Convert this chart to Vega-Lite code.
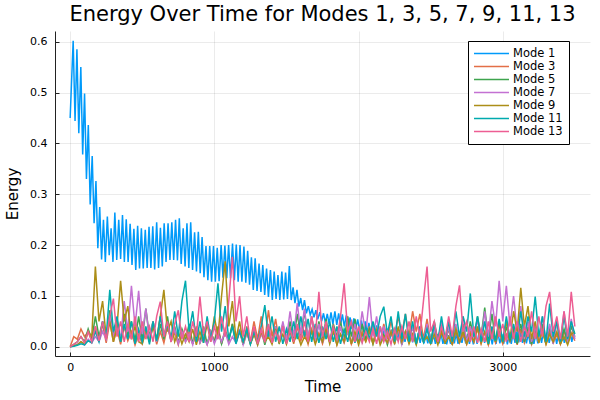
{
"$schema": "https://vega.github.io/schema/vega-lite/v6.json",
"width": 535, "height": 325,
"autosize": {"type": "none"},
"padding": {"left": 55, "top": 31, "right": 10, "bottom": 44},
"background": "white",
"title": {"text": "Energy Over Time for Modes 1, 3, 5, 7, 9, 11, 13", "fontSize": 21, "font": "DejaVu Sans", "fontWeight": "normal", "color": "black", "offset": 6},
"config": {
  "view": {"stroke": null},
  "axis": {"labelFont": "DejaVu Sans", "labelFontSize": 11, "labelColor": "black", "titleFont": "DejaVu Sans", "titleFontSize": 15, "titleFontWeight": "normal", "titleColor": "black", "domainColor": "#222", "domainWidth": 1, "tickColor": "#222", "tickSize": -4, "gridColor": "black", "gridOpacity": 0.08, "gridWidth": 1},
  "legend": {"orient": "none", "legendX": 413, "legendY": 10, "strokeColor": "black", "fillColor": "white", "padding": 6, "symbolType": "stroke", "symbolSize": 1369, "symbolStrokeWidth": 1.5, "symbolOffset": -3, "clipHeight": 13, "labelFont": "DejaVu Sans", "labelFontSize": 11.5, "labelColor": "black", "labelOffset": 3, "rowPadding": 0, "title": null}
},
"datasets": {
"m1": [{"t":0,"e":0.45},{"t":21,"e":0.602},{"t":34,"e":0.444},{"t":47,"e":0.585},{"t":60,"e":0.42},{"t":74,"e":0.55},{"t":87,"e":0.378},{"t":100,"e":0.498},{"t":113,"e":0.33},{"t":126,"e":0.436},{"t":139,"e":0.28},{"t":153,"e":0.375},{"t":166,"e":0.243},{"t":179,"e":0.326},{"t":192,"e":0.194},{"t":205,"e":0.275},{"t":218,"e":0.172},{"t":231,"e":0.25},{"t":244,"e":0.167},{"t":258,"e":0.256},{"t":271,"e":0.18},{"t":284,"e":0.233},{"t":297,"e":0.167},{"t":310,"e":0.264},{"t":323,"e":0.171},{"t":337,"e":0.25},{"t":350,"e":0.173},{"t":363,"e":0.259},{"t":376,"e":0.167},{"t":389,"e":0.251},{"t":402,"e":0.167},{"t":416,"e":0.242},{"t":429,"e":0.161},{"t":442,"e":0.232},{"t":455,"e":0.151},{"t":468,"e":0.238},{"t":481,"e":0.154},{"t":494,"e":0.233},{"t":507,"e":0.154},{"t":521,"e":0.23},{"t":534,"e":0.155},{"t":547,"e":0.236},{"t":560,"e":0.155},{"t":573,"e":0.237},{"t":586,"e":0.152},{"t":600,"e":0.245},{"t":613,"e":0.155},{"t":626,"e":0.234},{"t":639,"e":0.158},{"t":652,"e":0.243},{"t":665,"e":0.167},{"t":679,"e":0.243},{"t":692,"e":0.171},{"t":705,"e":0.245},{"t":718,"e":0.171},{"t":731,"e":0.25},{"t":744,"e":0.17},{"t":757,"e":0.253},{"t":770,"e":0.163},{"t":784,"e":0.233},{"t":797,"e":0.158},{"t":810,"e":0.243},{"t":823,"e":0.155},{"t":836,"e":0.245},{"t":849,"e":0.151},{"t":863,"e":0.225},{"t":876,"e":0.148},{"t":889,"e":0.226},{"t":902,"e":0.145},{"t":915,"e":0.216},{"t":928,"e":0.137},{"t":942,"e":0.198},{"t":955,"e":0.131},{"t":968,"e":0.198},{"t":981,"e":0.128},{"t":994,"e":0.198},{"t":1007,"e":0.128},{"t":1020,"e":0.195},{"t":1033,"e":0.129},{"t":1047,"e":0.2},{"t":1060,"e":0.136},{"t":1073,"e":0.199},{"t":1086,"e":0.135},{"t":1099,"e":0.2},{"t":1112,"e":0.135},{"t":1126,"e":0.203},{"t":1139,"e":0.131},{"t":1152,"e":0.201},{"t":1165,"e":0.128},{"t":1178,"e":0.2},{"t":1191,"e":0.128},{"t":1205,"e":0.197},{"t":1218,"e":0.126},{"t":1231,"e":0.189},{"t":1244,"e":0.122},{"t":1257,"e":0.176},{"t":1270,"e":0.112},{"t":1283,"e":0.174},{"t":1296,"e":0.11},{"t":1310,"e":0.164},{"t":1323,"e":0.108},{"t":1336,"e":0.161},{"t":1349,"e":0.102},{"t":1362,"e":0.154},{"t":1375,"e":0.098},{"t":1389,"e":0.151},{"t":1402,"e":0.092},{"t":1415,"e":0.148},{"t":1428,"e":0.094},{"t":1441,"e":0.141},{"t":1454,"e":0.092},{"t":1468,"e":0.148},{"t":1481,"e":0.093},{"t":1494,"e":0.146},{"t":1507,"e":0.094},{"t":1520,"e":0.159},{"t":1533,"e":0.092},{"t":1546,"e":0.117},{"t":1559,"e":0.086},{"t":1573,"e":0.112},{"t":1586,"e":0.079},{"t":1599,"e":0.096},{"t":1612,"e":0.072},{"t":1625,"e":0.092},{"t":1638,"e":0.066},{"t":1652,"e":0.08},{"t":1665,"e":0.063},{"t":1678,"e":0.074},{"t":1691,"e":0.058},{"t":1704,"e":0.072},{"t":1717,"e":0.054},{"t":1731,"e":0.068},{"t":1744,"e":0.05},{"t":1757,"e":0.066},{"t":1770,"e":0.047},{"t":1783,"e":0.065},{"t":1796,"e":0.045},{"t":1809,"e":0.068},{"t":1822,"e":0.044},{"t":1836,"e":0.07},{"t":1849,"e":0.043},{"t":1862,"e":0.066},{"t":1875,"e":0.042},{"t":1888,"e":0.064},{"t":1901,"e":0.04},{"t":1915,"e":0.062},{"t":1928,"e":0.038},{"t":1941,"e":0.058},{"t":1954,"e":0.036},{"t":1967,"e":0.056},{"t":1980,"e":0.035},{"t":1994,"e":0.054},{"t":2007,"e":0.033},{"t":2020,"e":0.052},{"t":2033,"e":0.03},{"t":2046,"e":0.05},{"t":2059,"e":0.028},{"t":2072,"e":0.047},{"t":2085,"e":0.025},{"t":2099,"e":0.045},{"t":2112,"e":0.022},{"t":2125,"e":0.042},{"t":2138,"e":0.02},{"t":2151,"e":0.04},{"t":2164,"e":0.018},{"t":2178,"e":0.038},{"t":2191,"e":0.016},{"t":2204,"e":0.036},{"t":2217,"e":0.015},{"t":2230,"e":0.034},{"t":2243,"e":0.013},{"t":2257,"e":0.033},{"t":2270,"e":0.012},{"t":2283,"e":0.032},{"t":2296,"e":0.011},{"t":2309,"e":0.03},{"t":2322,"e":0.01},{"t":2335,"e":0.03},{"t":2348,"e":0.01},{"t":2362,"e":0.028},{"t":2375,"e":0.009},{"t":2388,"e":0.027},{"t":2401,"e":0.008},{"t":2414,"e":0.027},{"t":2427,"e":0.008},{"t":2441,"e":0.026},{"t":2454,"e":0.007},{"t":2467,"e":0.025},{"t":2480,"e":0.007},{"t":2493,"e":0.026},{"t":2506,"e":0.006},{"t":2520,"e":0.024},{"t":2533,"e":0.006},{"t":2546,"e":0.025},{"t":2559,"e":0.007},{"t":2572,"e":0.027},{"t":2585,"e":0.006},{"t":2598,"e":0.024},{"t":2611,"e":0.005},{"t":2625,"e":0.023},{"t":2638,"e":0.006},{"t":2651,"e":0.025},{"t":2664,"e":0.007},{"t":2677,"e":0.026},{"t":2690,"e":0.006},{"t":2704,"e":0.028},{"t":2717,"e":0.008},{"t":2730,"e":0.027},{"t":2743,"e":0.007},{"t":2756,"e":0.025},{"t":2769,"e":0.006},{"t":2783,"e":0.024},{"t":2796,"e":0.005},{"t":2809,"e":0.026},{"t":2822,"e":0.006},{"t":2835,"e":0.028},{"t":2848,"e":0.007},{"t":2861,"e":0.027},{"t":2874,"e":0.008},{"t":2888,"e":0.025},{"t":2901,"e":0.006},{"t":2914,"e":0.024},{"t":2927,"e":0.005},{"t":2940,"e":0.026},{"t":2953,"e":0.006},{"t":2967,"e":0.027},{"t":2980,"e":0.007},{"t":2993,"e":0.025},{"t":3006,"e":0.006},{"t":3019,"e":0.024},{"t":3032,"e":0.005},{"t":3046,"e":0.026},{"t":3059,"e":0.006},{"t":3072,"e":0.028},{"t":3085,"e":0.008},{"t":3098,"e":0.03},{"t":3111,"e":0.009},{"t":3124,"e":0.029},{"t":3137,"e":0.008},{"t":3151,"e":0.027},{"t":3164,"e":0.007},{"t":3177,"e":0.026},{"t":3190,"e":0.006},{"t":3203,"e":0.025},{"t":3216,"e":0.006},{"t":3230,"e":0.027},{"t":3243,"e":0.007},{"t":3256,"e":0.029},{"t":3269,"e":0.008},{"t":3282,"e":0.03},{"t":3295,"e":0.009},{"t":3309,"e":0.028},{"t":3322,"e":0.008},{"t":3335,"e":0.027},{"t":3348,"e":0.007},{"t":3361,"e":0.026},{"t":3374,"e":0.006},{"t":3387,"e":0.028},{"t":3400,"e":0.007},{"t":3414,"e":0.03},{"t":3427,"e":0.008},{"t":3440,"e":0.029},{"t":3453,"e":0.009},{"t":3466,"e":0.031},{"t":3479,"e":0.01},{"t":3493,"e":0.03}],
"m3": [{"t":0,"e":0},{"t":25,"e":0.02},{"t":50,"e":0.015},{"t":75,"e":0.035},{"t":100,"e":0.02},{"t":125,"e":0.03},{"t":150,"e":0.012},{"t":175,"e":0.04},{"t":200,"e":0.01},{"t":225,"e":0.045},{"t":250,"e":0.008},{"t":275,"e":0.05},{"t":300,"e":0.01},{"t":325,"e":0.035},{"t":350,"e":0.005},{"t":375,"e":0.04},{"t":400,"e":0.012},{"t":425,"e":0.03},{"t":450,"e":0.004},{"t":475,"e":0.025},{"t":500,"e":0.006},{"t":525,"e":0.035},{"t":550,"e":0.01},{"t":575,"e":0.045},{"t":600,"e":0.005},{"t":625,"e":0.03},{"t":650,"e":0.008},{"t":675,"e":0.04},{"t":700,"e":0.012},{"t":725,"e":0.028},{"t":750,"e":0.004},{"t":775,"e":0.035},{"t":800,"e":0.01},{"t":825,"e":0.03},{"t":850,"e":0.006},{"t":875,"e":0.04},{"t":900,"e":0.008},{"t":925,"e":0.025},{"t":950,"e":0.005},{"t":975,"e":0.03},{"t":1000,"e":0.01},{"t":1025,"e":0.04},{"t":1050,"e":0.006},{"t":1075,"e":0.035},{"t":1100,"e":0.012},{"t":1125,"e":0.045},{"t":1150,"e":0.008},{"t":1175,"e":0.03},{"t":1200,"e":0.005},{"t":1225,"e":0.04},{"t":1250,"e":0.01},{"t":1275,"e":0.05},{"t":1300,"e":0.015},{"t":1325,"e":0.06},{"t":1350,"e":0.01},{"t":1375,"e":0.072},{"t":1400,"e":0.02},{"t":1425,"e":0.055},{"t":1450,"e":0.008},{"t":1475,"e":0.045},{"t":1500,"e":0.01},{"t":1525,"e":0.035},{"t":1550,"e":0.006},{"t":1575,"e":0.04},{"t":1600,"e":0.012},{"t":1625,"e":0.03},{"t":1650,"e":0.005},{"t":1675,"e":0.035},{"t":1700,"e":0.01},{"t":1725,"e":0.028},{"t":1750,"e":0.006},{"t":1775,"e":0.03},{"t":1800,"e":0.01},{"t":1825,"e":0.035},{"t":1850,"e":0.004},{"t":1875,"e":0.025},{"t":1900,"e":0.008},{"t":1925,"e":0.03},{"t":1950,"e":0.005},{"t":1975,"e":0.022},{"t":2000,"e":0.008},{"t":2025,"e":0.03},{"t":2050,"e":0.012},{"t":2075,"e":0.04},{"t":2100,"e":0.006},{"t":2125,"e":0.035},{"t":2150,"e":0.01},{"t":2175,"e":0.045},{"t":2200,"e":0.015},{"t":2225,"e":0.05},{"t":2250,"e":0.02},{"t":2275,"e":0.06},{"t":2300,"e":0.025},{"t":2325,"e":0.065},{"t":2350,"e":0.02},{"t":2375,"e":0.07},{"t":2400,"e":0.03},{"t":2425,"e":0.065},{"t":2450,"e":0.015},{"t":2475,"e":0.055},{"t":2500,"e":0.01},{"t":2525,"e":0.04},{"t":2550,"e":0.006},{"t":2575,"e":0.03},{"t":2600,"e":0.01},{"t":2625,"e":0.035},{"t":2650,"e":0.004},{"t":2675,"e":0.03},{"t":2700,"e":0.008},{"t":2725,"e":0.025},{"t":2750,"e":0.005},{"t":2775,"e":0.03},{"t":2800,"e":0.01},{"t":2825,"e":0.035},{"t":2850,"e":0.006},{"t":2875,"e":0.028},{"t":2900,"e":0.004},{"t":2925,"e":0.032},{"t":2950,"e":0.008},{"t":2975,"e":0.03},{"t":3000,"e":0.006},{"t":3025,"e":0.025},{"t":3050,"e":0.01},{"t":3075,"e":0.03},{"t":3100,"e":0.004},{"t":3125,"e":0.035},{"t":3150,"e":0.008},{"t":3175,"e":0.03},{"t":3200,"e":0.005},{"t":3225,"e":0.028},{"t":3250,"e":0.01},{"t":3275,"e":0.035},{"t":3300,"e":0.006},{"t":3325,"e":0.03},{"t":3350,"e":0.008},{"t":3375,"e":0.025},{"t":3400,"e":0.005},{"t":3425,"e":0.03},{"t":3450,"e":0.01},{"t":3475,"e":0.028},{"t":3500,"e":0.012}],
"m5": [{"t":0,"e":0},{"t":25,"e":0.005},{"t":50,"e":0.01},{"t":75,"e":0.02},{"t":100,"e":0.01},{"t":125,"e":0.035},{"t":150,"e":0.015},{"t":175,"e":0.06},{"t":200,"e":0.02},{"t":225,"e":0.05},{"t":250,"e":0.015},{"t":275,"e":0.072},{"t":300,"e":0.02},{"t":325,"e":0.055},{"t":350,"e":0.01},{"t":375,"e":0.065},{"t":400,"e":0.02},{"t":425,"e":0.05},{"t":450,"e":0.012},{"t":475,"e":0.06},{"t":500,"e":0.015},{"t":525,"e":0.075},{"t":550,"e":0.02},{"t":575,"e":0.05},{"t":600,"e":0.01},{"t":625,"e":0.045},{"t":650,"e":0.015},{"t":675,"e":0.06},{"t":700,"e":0.01},{"t":725,"e":0.04},{"t":750,"e":0.008},{"t":775,"e":0.035},{"t":800,"e":0.012},{"t":825,"e":0.045},{"t":850,"e":0.006},{"t":875,"e":0.03},{"t":900,"e":0.01},{"t":925,"e":0.04},{"t":950,"e":0.005},{"t":975,"e":0.03},{"t":1000,"e":0.01},{"t":1025,"e":0.035},{"t":1050,"e":0.006},{"t":1075,"e":0.03},{"t":1100,"e":0.012},{"t":1125,"e":0.045},{"t":1150,"e":0.008},{"t":1175,"e":0.035},{"t":1200,"e":0.004},{"t":1225,"e":0.03},{"t":1250,"e":0.006},{"t":1275,"e":0.025},{"t":1300,"e":0.01},{"t":1325,"e":0.035},{"t":1350,"e":0.004},{"t":1375,"e":0.03},{"t":1400,"e":0.01},{"t":1425,"e":0.04},{"t":1450,"e":0.006},{"t":1475,"e":0.045},{"t":1500,"e":0.01},{"t":1525,"e":0.05},{"t":1550,"e":0.015},{"t":1575,"e":0.065},{"t":1600,"e":0.02},{"t":1625,"e":0.07},{"t":1650,"e":0.015},{"t":1675,"e":0.06},{"t":1700,"e":0.01},{"t":1725,"e":0.05},{"t":1750,"e":0.015},{"t":1775,"e":0.055},{"t":1800,"e":0.01},{"t":1825,"e":0.045},{"t":1850,"e":0.02},{"t":1875,"e":0.05},{"t":1900,"e":0.015},{"t":1925,"e":0.06},{"t":1950,"e":0.02},{"t":1975,"e":0.055},{"t":2000,"e":0.01},{"t":2025,"e":0.045},{"t":2050,"e":0.015},{"t":2075,"e":0.035},{"t":2100,"e":0.006},{"t":2125,"e":0.03},{"t":2150,"e":0.01},{"t":2175,"e":0.025},{"t":2200,"e":0.004},{"t":2225,"e":0.03},{"t":2250,"e":0.008},{"t":2275,"e":0.035},{"t":2300,"e":0.004},{"t":2325,"e":0.03},{"t":2350,"e":0.01},{"t":2375,"e":0.025},{"t":2400,"e":0.006},{"t":2425,"e":0.035},{"t":2450,"e":0.01},{"t":2475,"e":0.04},{"t":2500,"e":0.008},{"t":2525,"e":0.05},{"t":2550,"e":0.012},{"t":2575,"e":0.045},{"t":2600,"e":0.006},{"t":2625,"e":0.04},{"t":2650,"e":0.01},{"t":2675,"e":0.035},{"t":2700,"e":0.008},{"t":2725,"e":0.045},{"t":2750,"e":0.01},{"t":2775,"e":0.05},{"t":2800,"e":0.015},{"t":2825,"e":0.06},{"t":2850,"e":0.02},{"t":2875,"e":0.077},{"t":2900,"e":0.015},{"t":2925,"e":0.065},{"t":2950,"e":0.01},{"t":2975,"e":0.05},{"t":3000,"e":0.008},{"t":3025,"e":0.04},{"t":3050,"e":0.012},{"t":3075,"e":0.035},{"t":3100,"e":0.006},{"t":3125,"e":0.045},{"t":3150,"e":0.01},{"t":3175,"e":0.04},{"t":3200,"e":0.005},{"t":3225,"e":0.035},{"t":3250,"e":0.01},{"t":3275,"e":0.045},{"t":3300,"e":0.008},{"t":3325,"e":0.04},{"t":3350,"e":0.012},{"t":3375,"e":0.05},{"t":3400,"e":0.006},{"t":3425,"e":0.035},{"t":3450,"e":0.01},{"t":3475,"e":0.04},{"t":3500,"e":0.02}],
"m7": [{"t":0,"e":0},{"t":25,"e":0.002},{"t":50,"e":0.005},{"t":75,"e":0.01},{"t":100,"e":0.004},{"t":125,"e":0.015},{"t":150,"e":0.008},{"t":175,"e":0.02},{"t":200,"e":0.01},{"t":225,"e":0.03},{"t":250,"e":0.015},{"t":275,"e":0.06},{"t":300,"e":0.02},{"t":325,"e":0.045},{"t":350,"e":0.015},{"t":375,"e":0.09},{"t":400,"e":0.03},{"t":425,"e":0.12},{"t":450,"e":0.04},{"t":475,"e":0.11},{"t":500,"e":0.025},{"t":525,"e":0.075},{"t":550,"e":0.015},{"t":575,"e":0.05},{"t":600,"e":0.01},{"t":625,"e":0.06},{"t":650,"e":0.02},{"t":675,"e":0.045},{"t":700,"e":0.01},{"t":725,"e":0.035},{"t":750,"e":0.006},{"t":775,"e":0.03},{"t":800,"e":0.01},{"t":825,"e":0.025},{"t":850,"e":0.004},{"t":875,"e":0.035},{"t":900,"e":0.008},{"t":925,"e":0.02},{"t":950,"e":0.004},{"t":975,"e":0.03},{"t":1000,"e":0.006},{"t":1025,"e":0.025},{"t":1050,"e":0.01},{"t":1075,"e":0.03},{"t":1100,"e":0.005},{"t":1125,"e":0.02},{"t":1150,"e":0.008},{"t":1175,"e":0.035},{"t":1200,"e":0.004},{"t":1225,"e":0.025},{"t":1250,"e":0.008},{"t":1275,"e":0.03},{"t":1300,"e":0.004},{"t":1325,"e":0.025},{"t":1350,"e":0.01},{"t":1375,"e":0.035},{"t":1400,"e":0.006},{"t":1425,"e":0.04},{"t":1450,"e":0.01},{"t":1475,"e":0.05},{"t":1500,"e":0.015},{"t":1525,"e":0.07},{"t":1550,"e":0.02},{"t":1575,"e":0.086},{"t":1600,"e":0.025},{"t":1625,"e":0.075},{"t":1650,"e":0.015},{"t":1675,"e":0.06},{"t":1700,"e":0.01},{"t":1725,"e":0.045},{"t":1750,"e":0.008},{"t":1775,"e":0.04},{"t":1800,"e":0.012},{"t":1825,"e":0.035},{"t":1850,"e":0.006},{"t":1875,"e":0.04},{"t":1900,"e":0.01},{"t":1925,"e":0.03},{"t":1950,"e":0.008},{"t":1975,"e":0.045},{"t":2000,"e":0.015},{"t":2025,"e":0.07},{"t":2050,"e":0.025},{"t":2075,"e":0.098},{"t":2100,"e":0.02},{"t":2125,"e":0.06},{"t":2150,"e":0.01},{"t":2175,"e":0.04},{"t":2200,"e":0.006},{"t":2225,"e":0.03},{"t":2250,"e":0.008},{"t":2275,"e":0.035},{"t":2300,"e":0.005},{"t":2325,"e":0.03},{"t":2350,"e":0.01},{"t":2375,"e":0.04},{"t":2400,"e":0.006},{"t":2425,"e":0.035},{"t":2450,"e":0.01},{"t":2475,"e":0.045},{"t":2500,"e":0.006},{"t":2525,"e":0.035},{"t":2550,"e":0.01},{"t":2575,"e":0.05},{"t":2600,"e":0.008},{"t":2625,"e":0.04},{"t":2650,"e":0.005},{"t":2675,"e":0.045},{"t":2700,"e":0.01},{"t":2725,"e":0.06},{"t":2750,"e":0.008},{"t":2775,"e":0.04},{"t":2800,"e":0.012},{"t":2825,"e":0.055},{"t":2850,"e":0.01},{"t":2875,"e":0.07},{"t":2900,"e":0.02},{"t":2925,"e":0.09},{"t":2950,"e":0.04},{"t":2975,"e":0.13},{"t":3000,"e":0.05},{"t":3025,"e":0.12},{"t":3050,"e":0.04},{"t":3075,"e":0.1},{"t":3100,"e":0.03},{"t":3125,"e":0.08},{"t":3150,"e":0.015},{"t":3175,"e":0.05},{"t":3200,"e":0.01},{"t":3225,"e":0.04},{"t":3250,"e":0.008},{"t":3275,"e":0.06},{"t":3300,"e":0.01},{"t":3325,"e":0.045},{"t":3350,"e":0.006},{"t":3375,"e":0.05},{"t":3400,"e":0.01},{"t":3425,"e":0.07},{"t":3450,"e":0.008},{"t":3475,"e":0.055},{"t":3500,"e":0.015}],
"m9": [{"t":0,"e":0},{"t":25,"e":0.002},{"t":50,"e":0.004},{"t":75,"e":0.01},{"t":100,"e":0.006},{"t":125,"e":0.03},{"t":150,"e":0.02},{"t":175,"e":0.158},{"t":200,"e":0.05},{"t":225,"e":0.09},{"t":250,"e":0.02},{"t":275,"e":0.05},{"t":300,"e":0.01},{"t":325,"e":0.04},{"t":350,"e":0.13},{"t":375,"e":0.05},{"t":400,"e":0.08},{"t":425,"e":0.015},{"t":450,"e":0.04},{"t":475,"e":0.01},{"t":500,"e":0.006},{"t":525,"e":0.03},{"t":550,"e":0.01},{"t":575,"e":0.04},{"t":600,"e":0.015},{"t":625,"e":0.06},{"t":650,"e":0.112},{"t":675,"e":0.03},{"t":700,"e":0.05},{"t":725,"e":0.01},{"t":750,"e":0.03},{"t":775,"e":0.006},{"t":800,"e":0.025},{"t":825,"e":0.01},{"t":850,"e":0.035},{"t":875,"e":0.004},{"t":900,"e":0.03},{"t":925,"e":0.008},{"t":950,"e":0.045},{"t":975,"e":0.01},{"t":1000,"e":0.06},{"t":1025,"e":0.02},{"t":1050,"e":0.1},{"t":1075,"e":0.168},{"t":1100,"e":0.04},{"t":1125,"e":0.09},{"t":1150,"e":0.015},{"t":1175,"e":0.05},{"t":1200,"e":0.008},{"t":1225,"e":0.03},{"t":1250,"e":0.006},{"t":1275,"e":0.025},{"t":1300,"e":0.004},{"t":1325,"e":0.03},{"t":1350,"e":0.01},{"t":1375,"e":0.02},{"t":1400,"e":0.005},{"t":1425,"e":0.035},{"t":1450,"e":0.008},{"t":1475,"e":0.025},{"t":1500,"e":0.005},{"t":1525,"e":0.03},{"t":1550,"e":0.01},{"t":1575,"e":0.025},{"t":1600,"e":0.004},{"t":1625,"e":0.02},{"t":1650,"e":0.008},{"t":1675,"e":0.03},{"t":1700,"e":0.005},{"t":1725,"e":0.025},{"t":1750,"e":0.01},{"t":1775,"e":0.035},{"t":1800,"e":0.006},{"t":1825,"e":0.03},{"t":1850,"e":0.004},{"t":1875,"e":0.025},{"t":1900,"e":0.01},{"t":1925,"e":0.04},{"t":1950,"e":0.006},{"t":1975,"e":0.03},{"t":2000,"e":0.004},{"t":2025,"e":0.025},{"t":2050,"e":0.01},{"t":2075,"e":0.03},{"t":2100,"e":0.006},{"t":2125,"e":0.035},{"t":2150,"e":0.004},{"t":2175,"e":0.02},{"t":2200,"e":0.008},{"t":2225,"e":0.03},{"t":2250,"e":0.005},{"t":2275,"e":0.04},{"t":2300,"e":0.01},{"t":2325,"e":0.03},{"t":2350,"e":0.006},{"t":2375,"e":0.025},{"t":2400,"e":0.004},{"t":2425,"e":0.03},{"t":2450,"e":0.01},{"t":2475,"e":0.02},{"t":2500,"e":0.006},{"t":2525,"e":0.025},{"t":2550,"e":0.004},{"t":2575,"e":0.03},{"t":2600,"e":0.008},{"t":2625,"e":0.02},{"t":2650,"e":0.005},{"t":2675,"e":0.035},{"t":2700,"e":0.01},{"t":2725,"e":0.03},{"t":2750,"e":0.006},{"t":2775,"e":0.025},{"t":2800,"e":0.01},{"t":2825,"e":0.04},{"t":2850,"e":0.008},{"t":2875,"e":0.03},{"t":2900,"e":0.004},{"t":2925,"e":0.035},{"t":2950,"e":0.01},{"t":2975,"e":0.045},{"t":3000,"e":0.008},{"t":3025,"e":0.05},{"t":3050,"e":0.015},{"t":3075,"e":0.07},{"t":3100,"e":0.03},{"t":3125,"e":0.116},{"t":3150,"e":0.04},{"t":3175,"e":0.08},{"t":3200,"e":0.015},{"t":3225,"e":0.05},{"t":3250,"e":0.008},{"t":3275,"e":0.03},{"t":3300,"e":0.005},{"t":3325,"e":0.025},{"t":3350,"e":0.01},{"t":3375,"e":0.03},{"t":3400,"e":0.006},{"t":3425,"e":0.02},{"t":3450,"e":0.004},{"t":3475,"e":0.025},{"t":3500,"e":0.03}],
"m11": [{"t":0,"e":0},{"t":25,"e":0.001},{"t":50,"e":0.003},{"t":75,"e":0.006},{"t":100,"e":0.004},{"t":125,"e":0.012},{"t":150,"e":0.008},{"t":175,"e":0.03},{"t":200,"e":0.01},{"t":225,"e":0.05},{"t":250,"e":0.02},{"t":275,"e":0.112},{"t":300,"e":0.03},{"t":325,"e":0.06},{"t":350,"e":0.01},{"t":375,"e":0.045},{"t":400,"e":0.015},{"t":425,"e":0.05},{"t":450,"e":0.006},{"t":475,"e":0.035},{"t":500,"e":0.01},{"t":525,"e":0.04},{"t":550,"e":0.005},{"t":575,"e":0.05},{"t":600,"e":0.012},{"t":625,"e":0.06},{"t":650,"e":0.02},{"t":675,"e":0.045},{"t":700,"e":0.015},{"t":725,"e":0.07},{"t":750,"e":0.02},{"t":775,"e":0.09},{"t":800,"e":0.13},{"t":825,"e":0.03},{"t":850,"e":0.07},{"t":875,"e":0.01},{"t":900,"e":0.05},{"t":925,"e":0.008},{"t":950,"e":0.06},{"t":975,"e":0.015},{"t":1000,"e":0.05},{"t":1025,"e":0.125},{"t":1050,"e":0.03},{"t":1075,"e":0.08},{"t":1100,"e":0.015},{"t":1125,"e":0.04},{"t":1150,"e":0.006},{"t":1175,"e":0.03},{"t":1200,"e":0.01},{"t":1225,"e":0.035},{"t":1250,"e":0.005},{"t":1275,"e":0.03},{"t":1300,"e":0.01},{"t":1325,"e":0.04},{"t":1350,"e":0.082},{"t":1375,"e":0.02},{"t":1400,"e":0.06},{"t":1425,"e":0.01},{"t":1450,"e":0.04},{"t":1475,"e":0.006},{"t":1500,"e":0.035},{"t":1525,"e":0.01},{"t":1550,"e":0.05},{"t":1575,"e":0.015},{"t":1600,"e":0.06},{"t":1625,"e":0.02},{"t":1650,"e":0.055},{"t":1675,"e":0.01},{"t":1700,"e":0.045},{"t":1725,"e":0.008},{"t":1750,"e":0.04},{"t":1775,"e":0.015},{"t":1800,"e":0.05},{"t":1825,"e":0.01},{"t":1850,"e":0.04},{"t":1875,"e":0.006},{"t":1900,"e":0.035},{"t":1925,"e":0.01},{"t":1950,"e":0.045},{"t":1975,"e":0.008},{"t":2000,"e":0.03},{"t":2025,"e":0.01},{"t":2050,"e":0.04},{"t":2075,"e":0.015},{"t":2100,"e":0.05},{"t":2125,"e":0.02},{"t":2150,"e":0.06},{"t":2175,"e":0.079},{"t":2200,"e":0.025},{"t":2225,"e":0.06},{"t":2250,"e":0.01},{"t":2275,"e":0.07},{"t":2300,"e":0.015},{"t":2325,"e":0.065},{"t":2350,"e":0.01},{"t":2375,"e":0.05},{"t":2400,"e":0.006},{"t":2425,"e":0.04},{"t":2450,"e":0.01},{"t":2475,"e":0.035},{"t":2500,"e":0.006},{"t":2525,"e":0.045},{"t":2550,"e":0.01},{"t":2575,"e":0.06},{"t":2600,"e":0.015},{"t":2625,"e":0.05},{"t":2650,"e":0.01},{"t":2675,"e":0.07},{"t":2700,"e":0.02},{"t":2725,"e":0.06},{"t":2750,"e":0.03},{"t":2775,"e":0.105},{"t":2800,"e":0.02},{"t":2825,"e":0.06},{"t":2850,"e":0.01},{"t":2875,"e":0.05},{"t":2900,"e":0.006},{"t":2925,"e":0.04},{"t":2950,"e":0.012},{"t":2975,"e":0.055},{"t":3000,"e":0.01},{"t":3025,"e":0.06},{"t":3050,"e":0.015},{"t":3075,"e":0.045},{"t":3100,"e":0.01},{"t":3125,"e":0.07},{"t":3150,"e":0.02},{"t":3175,"e":0.06},{"t":3200,"e":0.03},{"t":3225,"e":0.099},{"t":3250,"e":0.02},{"t":3275,"e":0.06},{"t":3300,"e":0.01},{"t":3325,"e":0.085},{"t":3350,"e":0.02},{"t":3375,"e":0.05},{"t":3400,"e":0.01},{"t":3425,"e":0.06},{"t":3450,"e":0.015},{"t":3475,"e":0.05},{"t":3500,"e":0.025}],
"m13": [{"t":0,"e":0},{"t":25,"e":0.005},{"t":50,"e":0.01},{"t":75,"e":0.02},{"t":100,"e":0.008},{"t":125,"e":0.03},{"t":150,"e":0.01},{"t":175,"e":0.04},{"t":200,"e":0.012},{"t":225,"e":0.05},{"t":250,"e":0.015},{"t":275,"e":0.06},{"t":300,"e":0.095},{"t":325,"e":0.02},{"t":350,"e":0.05},{"t":375,"e":0.01},{"t":400,"e":0.045},{"t":425,"e":0.015},{"t":450,"e":0.06},{"t":475,"e":0.01},{"t":500,"e":0.05},{"t":525,"e":0.015},{"t":550,"e":0.04},{"t":575,"e":0.01},{"t":600,"e":0.06},{"t":625,"e":0.089},{"t":650,"e":0.02},{"t":675,"e":0.05},{"t":700,"e":0.01},{"t":725,"e":0.045},{"t":750,"e":0.072},{"t":775,"e":0.015},{"t":800,"e":0.04},{"t":825,"e":0.01},{"t":850,"e":0.05},{"t":875,"e":0.02},{"t":900,"e":0.099},{"t":925,"e":0.025},{"t":950,"e":0.05},{"t":975,"e":0.01},{"t":1000,"e":0.04},{"t":1025,"e":0.015},{"t":1050,"e":0.06},{"t":1075,"e":0.02},{"t":1100,"e":0.09},{"t":1125,"e":0.177},{"t":1150,"e":0.05},{"t":1175,"e":0.1},{"t":1200,"e":0.02},{"t":1225,"e":0.06},{"t":1250,"e":0.01},{"t":1275,"e":0.04},{"t":1300,"e":0.006},{"t":1325,"e":0.035},{"t":1350,"e":0.01},{"t":1375,"e":0.045},{"t":1400,"e":0.008},{"t":1425,"e":0.03},{"t":1450,"e":0.012},{"t":1475,"e":0.04},{"t":1500,"e":0.006},{"t":1525,"e":0.035},{"t":1550,"e":0.01},{"t":1575,"e":0.045},{"t":1600,"e":0.015},{"t":1625,"e":0.05},{"t":1650,"e":0.01},{"t":1675,"e":0.06},{"t":1700,"e":0.02},{"t":1725,"e":0.108},{"t":1750,"e":0.02},{"t":1775,"e":0.05},{"t":1800,"e":0.01},{"t":1825,"e":0.04},{"t":1850,"e":0.015},{"t":1875,"e":0.06},{"t":1900,"e":0.125},{"t":1925,"e":0.03},{"t":1950,"e":0.05},{"t":1975,"e":0.01},{"t":2000,"e":0.04},{"t":2025,"e":0.008},{"t":2050,"e":0.03},{"t":2075,"e":0.01},{"t":2100,"e":0.035},{"t":2125,"e":0.006},{"t":2150,"e":0.04},{"t":2175,"e":0.01},{"t":2200,"e":0.03},{"t":2225,"e":0.005},{"t":2250,"e":0.035},{"t":2275,"e":0.01},{"t":2300,"e":0.04},{"t":2325,"e":0.015},{"t":2350,"e":0.05},{"t":2375,"e":0.01},{"t":2400,"e":0.06},{"t":2425,"e":0.02},{"t":2450,"e":0.09},{"t":2475,"e":0.158},{"t":2500,"e":0.03},{"t":2525,"e":0.05},{"t":2550,"e":0.01},{"t":2575,"e":0.04},{"t":2600,"e":0.015},{"t":2625,"e":0.06},{"t":2650,"e":0.02},{"t":2675,"e":0.08},{"t":2700,"e":0.121},{"t":2725,"e":0.03},{"t":2750,"e":0.05},{"t":2775,"e":0.01},{"t":2800,"e":0.04},{"t":2825,"e":0.008},{"t":2850,"e":0.035},{"t":2875,"e":0.01},{"t":2900,"e":0.05},{"t":2925,"e":0.015},{"t":2950,"e":0.06},{"t":2975,"e":0.02},{"t":3000,"e":0.045},{"t":3025,"e":0.01},{"t":3050,"e":0.06},{"t":3075,"e":0.015},{"t":3100,"e":0.05},{"t":3125,"e":0.01},{"t":3150,"e":0.04},{"t":3175,"e":0.02},{"t":3200,"e":0.07},{"t":3225,"e":0.015},{"t":3250,"e":0.06},{"t":3275,"e":0.02},{"t":3300,"e":0.08},{"t":3325,"e":0.108},{"t":3350,"e":0.03},{"t":3375,"e":0.06},{"t":3400,"e":0.015},{"t":3425,"e":0.07},{"t":3450,"e":0.02},{"t":3475,"e":0.108},{"t":3500,"e":0.04}]
},
"encoding": {
  "x": {"field": "t", "type": "quantitative", "title": "Time", "scale": {"domain": [-105, 3605], "nice": false, "zero": false}, "axis": {"values": [0, 1000, 2000, 3000], "format": "d", "labelPadding": 9, "titlePadding": 7}},
  "y": {"field": "e", "type": "quantitative", "title": "Energy", "scale": {"domain": [-0.018, 0.621], "nice": false, "zero": false}, "axis": {"values": [0, 0.1, 0.2, 0.3, 0.4, 0.5, 0.6], "format": ".1f", "labelPadding": 12, "titlePadding": 9}}
},
"layer": [
  {"data": {"name": "m1"}, "mark": {"type": "line", "strokeWidth": 1.5}, "encoding": {"color": {"datum": "Mode 1", "scale": {"domain": ["Mode 1", "Mode 3", "Mode 5", "Mode 7", "Mode 9", "Mode 11", "Mode 13"], "range": ["#009AFA", "#E36F47", "#3EA44E", "#C371D2", "#AC8E18", "#00AAAE", "#ED5E93"]}}}},
  {"data": {"name": "m3"}, "mark": {"type": "line", "strokeWidth": 1.5}, "encoding": {"color": {"datum": "Mode 3"}}},
  {"data": {"name": "m5"}, "mark": {"type": "line", "strokeWidth": 1.5}, "encoding": {"color": {"datum": "Mode 5"}}},
  {"data": {"name": "m7"}, "mark": {"type": "line", "strokeWidth": 1.5}, "encoding": {"color": {"datum": "Mode 7"}}},
  {"data": {"name": "m9"}, "mark": {"type": "line", "strokeWidth": 1.5}, "encoding": {"color": {"datum": "Mode 9"}}},
  {"data": {"name": "m11"}, "mark": {"type": "line", "strokeWidth": 1.5}, "encoding": {"color": {"datum": "Mode 11"}}},
  {"data": {"name": "m13"}, "mark": {"type": "line", "strokeWidth": 1.5}, "encoding": {"color": {"datum": "Mode 13"}}}
]
}
